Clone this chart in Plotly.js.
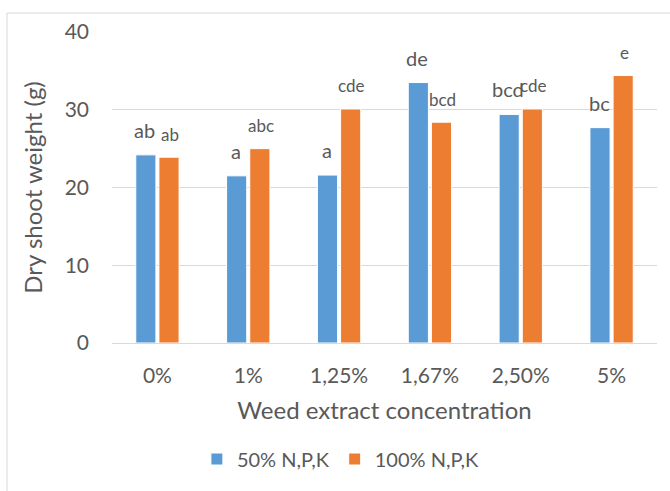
<!DOCTYPE html>
<html>
<head>
<meta charset="utf-8">
<script src="https://cdn.plot.ly/plotly-3.0.1.min.js"></script>
<style>html,body{margin:0;padding:0;background:#fff;}#chart{width:670px;height:491px;}</style>
</head>
<body>
<div id="chart"></div>
<script>
const categories = ['0%', '1%', '1,25%', '1,67%', '2,50%', '5%'];
const series50 = [24.2, 21.5, 21.6, 33.5, 29.4, 27.7];
const series100 = [23.9, 25.0, 30.1, 28.4, 30.1, 34.4];
const labels50 = ['ab', 'a', 'a', 'de', 'bcd', 'bc'];
const labels100 = ['ab', 'abc', 'cde', 'bcd', 'cde', 'e'];
const seriesNames = ['50% N,P,K', '100% N,P,K'];
const yTicks = [0, 10, 20, 30, 40];

const FONT = 'Lato, "Open Sans", sans-serif';
const GREY = '#595959';

const traces = [
  {type: 'bar', name: seriesNames[0], x: categories, y: series50,
   marker: {color: '#5b9bd5', line: {color: '#ffffff', width: 1}}, hoverinfo: 'none'},
  {type: 'bar', name: seriesNames[1], x: categories, y: series100,
   marker: {color: '#ed7d31', line: {color: '#ffffff', width: 1}}, hoverinfo: 'none'}
];

const annotations = [];
categories.forEach((c, i) => {
  annotations.push({x: c, y: series50[i], xref: 'x', yref: 'y', text: labels50[i],
    showarrow: false, xshift: -12.5, yshift: 25, yanchor: 'middle',
    font: {family: FONT, size: 20, color: GREY}});
  annotations.push({x: c, y: series100[i], xref: 'x', yref: 'y', text: labels100[i],
    showarrow: false, xshift: 12.5, yshift: 23, yanchor: 'middle',
    font: {family: FONT, size: 17, color: GREY}});
});

const layout = {
  width: 670, height: 491,
  margin: {l: 112, r: 13, t: 32, b: 148},
  paper_bgcolor: '#ffffff', plot_bgcolor: '#ffffff',
  font: {family: FONT, color: GREY, size: 20},
  barmode: 'group', bargap: 0.49, bargroupgap: 0.13,
  showlegend: true,
  legend: {orientation: 'h', x: 0.42, xanchor: 'center', y: -0.373, yanchor: 'middle',
    font: {family: FONT, size: 20, color: GREY}, itemwidth: 30, traceorder: 'normal'},
  xaxis: {
    type: 'category', showgrid: false, zeroline: false, showline: true,
    linecolor: '#d9d9d9', linewidth: 1, ticks: '', ticklabelstandoff: 14,
    tickfont: {family: FONT, size: 21, color: GREY},
    title: {text: 'Weed extract concentration', font: {family: FONT, size: 24, color: GREY}, standoff: 15}
  },
  yaxis: {
    range: [0, 40], tickvals: yTicks, showgrid: true, gridcolor: '#d9d9d9', gridwidth: 1,
    zeroline: false, showline: false, ticks: '', ticklabelstandoff: 22,
    tickfont: {family: FONT, size: 21, color: GREY},
    title: {text: 'Dry shoot weight (g)', font: {family: FONT, size: 24, color: GREY}, standoff: 15}
  },
  annotations: annotations,
  shapes: [{type: 'rect', xref: 'paper', yref: 'paper', x0: -0.1927, x1: 1.05, y0: -0.5, y1: 1.061,
    line: {color: '#d9d9d9', width: 1}, fillcolor: 'rgba(0,0,0,0)', layer: 'below'}]
};

Plotly.newPlot('chart', traces, layout, {staticPlot: true, displayModeBar: false});
</script>
</body>
</html>
